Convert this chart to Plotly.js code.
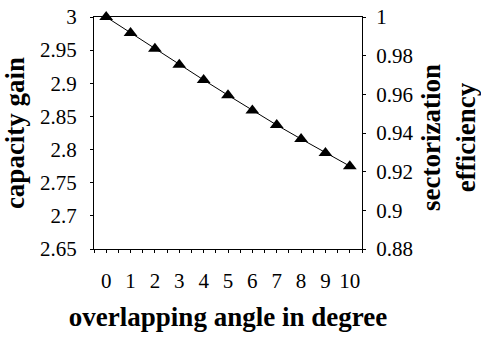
<!DOCTYPE html>
<html><head><meta charset="utf-8">
<script src="https://cdn.plot.ly/plotly-3.0.1.min.js"></script>
<style>html,body{margin:0;padding:0;background:#fff}#chart{width:481px;height:337px}</style>
</head><body><div id="chart"></div>
<script>
const angles = [0,1,2,3,4,5,6,7,8,9,10];
const capacityGain = [3.0,2.976,2.952,2.928,2.905,2.882,2.859,2.837,2.816,2.795,2.775];
const leftTicks = [2.65,2.7,2.75,2.8,2.85,2.9,2.95,3];
const leftTickText = ['2.65','2.7','2.75','2.8','2.85','2.9','2.95','3'];
const rightTicks = [0.88,0.9,0.92,0.94,0.96,0.98,1];
const rightTickText = ['0.88','0.9','0.92','0.94','0.96','0.98','1'];
const rightTitle = '<b>sectorization<br>efficiency</b>';

function tickFont() { return {family: 'Liberation Serif', size: 21, color: '#000'}; }
function titleFont() { return {family: 'Liberation Serif', size: 27, color: '#000'}; }
const trace = {
  x: angles, y: capacityGain, type: 'scatter', mode: 'lines+markers',
  line: {color: '#000', width: 1},
  marker: {symbol: 'triangle-up', size: 12, color: '#000'},
  showlegend: false, cliponaxis: false
};
const dummy = {x: [0], y: [0.9], yaxis: 'y2', type: 'scatter', mode: 'markers',
  marker: {opacity: 0}, showlegend: false, hoverinfo: 'skip'};

const layout = {
  width: 481, height: 337,
  margin: {l: 94, r: 119, t: 17, b: 88},
  paper_bgcolor: '#fff', plot_bgcolor: '#fff',
  font: {family: 'Liberation Serif', color: '#000', size: 21},
  xaxis: {
    range: [-0.5, 10.5], tickvals: angles, ticktext: angles.map(String),
    showgrid: false, zeroline: false, showline: true, linecolor: '#000', linewidth: 1,
    mirror: true, ticks: 'outside', ticklen: 3, tickcolor: '#000',
    minor: {dtick: 0.5, tick0: -0.5, ticks: 'outside', ticklen: 3, tickcolor: '#000'},
    tickfont: tickFont(), ticklabelstandoff: 10,
    title: {text: '<b>overlapping angle in degree</b>', font: titleFont(), standoff: 14}
  },
  yaxis: {
    range: [2.65, 3], tickvals: leftTicks, ticktext: leftTickText,
    showgrid: false, zeroline: false, showline: true, linecolor: '#000', linewidth: 1,
    ticks: 'outside', ticklen: 3, tickcolor: '#000',
    tickfont: tickFont(), ticklabelstandoff: 9,
    title: {text: '<b>capacity gain</b>', font: titleFont(), standoff: 8}
  },
  yaxis2: {
    overlaying: 'y', side: 'right', range: [0.88, 1],
    tickvals: rightTicks, ticktext: rightTickText,
    showgrid: false, zeroline: false, showline: true, linecolor: '#000', linewidth: 1,
    ticks: 'outside', ticklen: 3, tickcolor: '#000',
    tickfont: tickFont(), ticklabelstandoff: 6
  },
  annotations: [{
    text: rightTitle, xref: 'paper', yref: 'paper', x: 1.322, y: 0.48,
    xanchor: 'center', yanchor: 'middle', textangle: -90, showarrow: false,
    font: titleFont()
  }]
};
Plotly.newPlot('chart', [trace, dummy], layout, {displayModeBar: false, staticPlot: true});
</script></body></html>
